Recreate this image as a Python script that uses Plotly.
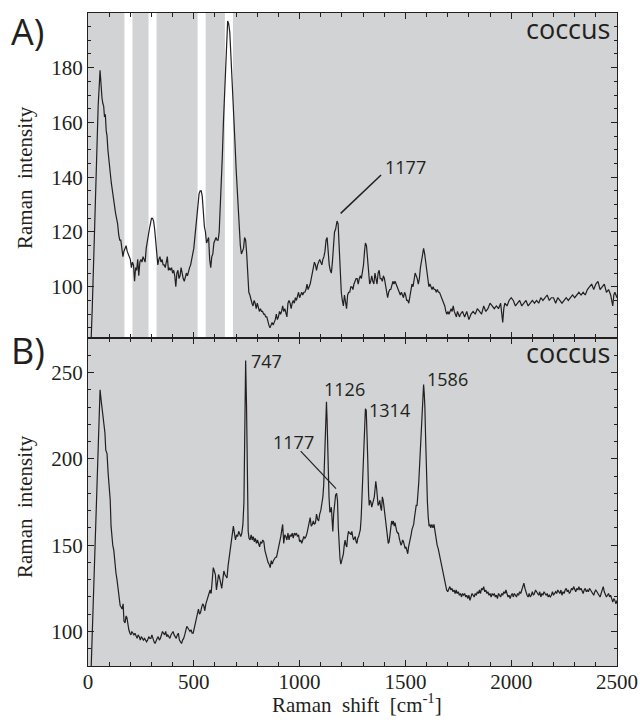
import plotly.graph_objects as go

# ---------------- data ----------------
# Panel A (top)
xa = [10, 15, 20, 30, 40, 48, 57, 62, 66, 70, 74, 78, 82, 86, 90, 94, 98, 102, 106, 110,
      115, 120, 125, 130, 135, 140, 145, 150, 155, 160, 165, 170, 175, 180, 185, 190, 195, 200,
      205, 210, 215, 220, 225, 230, 235, 240, 245, 250, 255, 260, 265, 270, 275, 280, 285, 290,
      295, 300, 305, 310, 315, 320, 325, 330, 335, 340, 345, 350, 355, 360, 365, 370, 375, 380,
      385, 390, 395, 400, 405, 410, 415, 420, 425, 430, 435, 440, 445, 450, 455, 460, 465, 470,
      475, 480, 485, 490, 495, 500, 505, 510, 515, 520, 525, 530, 535, 540, 545, 550, 555, 560,
      565, 570, 575, 580, 585, 590, 595, 600, 605, 610, 615, 620, 625, 630, 635, 640, 645, 650,
      655, 660, 665, 670, 675, 680, 685, 690, 695, 700, 705, 710, 715, 720, 725, 730, 735, 740,
      745, 750, 755, 760, 765, 770, 775, 780, 785, 790, 795, 800, 805, 810, 815, 820, 825, 830,
      835, 840, 845, 850, 855, 860, 865, 870, 875, 880, 885, 890, 895, 900, 905, 910, 915, 920,
      925, 930, 935, 940, 945, 950, 955, 960, 965, 970, 975, 980, 985, 990, 995, 1000, 1005,
      1010, 1015, 1020, 1025, 1030, 1035, 1040, 1045, 1050, 1055, 1060, 1065, 1070, 1075, 1080,
      1085, 1090, 1095, 1100, 1105, 1110, 1115, 1120, 1125, 1130, 1135, 1140, 1145, 1150, 1155,
      1160, 1165, 1170, 1177, 1182, 1187, 1192, 1197, 1202, 1207, 1212, 1217, 1222, 1227, 1232,
      1237, 1242, 1247, 1252, 1257, 1262, 1267, 1272, 1277, 1282, 1287, 1292, 1297, 1302, 1307,
      1311, 1316, 1321, 1326, 1331, 1336, 1341, 1346, 1351, 1356, 1361, 1366, 1371, 1376, 1381,
      1386, 1391, 1396, 1401, 1406, 1411, 1416, 1421, 1426, 1431, 1436, 1441, 1446, 1451, 1456,
      1461, 1466, 1471, 1476, 1481, 1486, 1491, 1496, 1501, 1506, 1511, 1516, 1521, 1526, 1531,
      1536, 1541, 1546, 1551, 1556, 1561, 1566, 1571, 1576, 1581, 1586, 1591, 1596, 1601, 1606,
      1611, 1616, 1621, 1626, 1631, 1636, 1641, 1646, 1651, 1656, 1661, 1666, 1671, 1676, 1681,
      1686, 1691, 1696, 1701, 1706, 1711, 1716, 1721, 1726, 1731, 1736, 1741, 1746, 1751, 1756,
      1760, 1770, 1780, 1790, 1800, 1810, 1820, 1830, 1840, 1850, 1860, 1870, 1880, 1890, 1900,
      1910, 1920, 1930, 1940, 1950, 1960, 1965, 1970, 1980, 1990, 2000, 2010, 2020, 2030, 2040,
      2050, 2060, 2070, 2080, 2090, 2100, 2110, 2120, 2130, 2140, 2150, 2160, 2170, 2180, 2190,
      2200, 2210, 2220, 2230, 2240, 2250, 2260, 2270, 2280, 2290, 2300, 2310, 2320, 2330, 2340,
      2350, 2360, 2370, 2380, 2390, 2400, 2410, 2420, 2430, 2440, 2450, 2460, 2470, 2480, 2485,
      2490, 2500]
ya = [70, 80, 92, 118, 148, 166, 179, 172, 169, 167, 166, 162, 163, 157, 155, 150, 146, 143, 141, 138,
      135, 133, 128, 127, 125, 123, 119, 117, 117, 114, 111, 113, 114, 115, 113, 112, 111, 110,
      107, 109, 108, 102, 107, 106, 110, 104, 109, 110, 109, 111, 110, 109, 114, 117, 118, 121,
      123, 125, 125, 124, 121, 117, 113, 108, 110, 111, 109, 110, 108, 108, 107, 109, 111, 106,
      107, 106, 107, 105, 106, 104, 100, 105, 106, 103, 104, 107, 104, 103, 102, 104, 105, 104,
      106, 107, 108, 111, 112, 114, 118, 122, 126, 132, 134, 135, 135, 133, 127, 122, 120, 116,
      117, 118, 110, 107, 111, 112, 116, 117, 118, 117, 117, 120, 128, 138, 148, 160, 170, 182,
      190, 197, 196, 193, 185, 175, 167, 158, 152, 143, 136, 129, 120, 115, 112, 113, 114, 118,
      117, 112, 104, 98, 97, 95, 94, 93, 95, 94, 92, 94, 92, 91, 92, 91, 91, 90,
      90, 89, 89, 87, 86, 85, 86, 87, 86, 87, 88, 90, 88, 89, 91, 90, 91, 93,
      91, 92, 90, 89, 94, 95, 94, 92, 94, 95, 94, 96, 95, 97, 98, 96, 97,
      98, 97, 98, 98, 99, 101, 99, 100, 101, 103, 105, 107, 109, 108, 106,
      108, 109, 110, 109, 108, 110, 111, 113, 117, 118, 112, 108, 106, 105, 109,
      117, 120, 121, 124, 123, 114, 104, 98, 95, 93, 97, 94, 92, 97, 98,
      98, 100, 100, 99, 101, 102, 103, 103, 101, 103, 104, 103, 105, 108, 113,
      116, 115, 109, 103, 101, 102, 104, 102, 101, 105, 103, 101, 105, 106, 103,
      103, 102, 104, 103, 100, 97, 96, 98, 99, 99, 101, 102, 101, 102, 101,
      100, 99, 98, 97, 98, 97, 96, 98, 97, 95, 95, 94, 97, 99, 101,
      100, 102, 105, 104, 103, 101, 103, 107, 110, 113, 114, 112, 109, 104, 101,
      100, 101, 100, 99, 100, 99, 99, 98, 99, 98, 98, 97, 96, 95, 94,
      93, 91, 90, 91, 90, 91, 92, 91, 93, 91, 90, 89, 91, 90, 89,
      90, 91, 89, 91, 88, 90, 91, 90, 92, 91, 90, 93, 91, 92, 94,
      93, 92, 93, 92, 94, 87, 92, 94, 93, 95, 96, 95, 93, 94, 95,
      93, 94, 95, 93, 94, 95, 94, 95, 94, 96, 95, 96, 97, 95, 96,
      96, 94, 96, 95, 94, 95, 96, 95, 96, 97, 96, 97, 98, 97, 98,
      97, 99, 100, 101, 99, 101, 102, 99, 100, 101, 98, 99, 97, 93, 97,
      98, 96]

# Panel B (bottom)
xb = [10, 15, 18, 25, 35, 45, 57, 62, 66, 72, 76, 80, 84, 90, 95, 100, 105, 109, 113, 117,
      122, 127, 132, 137, 142, 147, 152, 157, 161, 166, 170, 175, 180, 184, 188, 193, 198, 203,
      207, 212, 217, 222, 227, 232, 237, 242, 247, 252, 257, 262, 267, 272, 277, 282, 287, 292,
      297, 302, 307, 312, 317, 322, 327, 332, 337, 342, 347, 352, 357, 362, 367, 372, 377, 382,
      387, 392, 397, 402, 407, 412, 417, 422, 427, 432, 437, 442, 447, 452, 457, 462, 467, 472,
      477, 482, 487, 492, 497, 502, 507, 512, 517, 522, 527, 532, 537, 542, 547, 552, 557, 562,
      567, 572, 577, 582, 587, 592, 597, 602, 607, 612, 617, 622, 627, 632, 637, 642, 647, 652,
      657, 662, 667, 672, 677, 682, 687, 692, 697, 702, 707, 712, 717, 722, 727, 732, 737, 741,
      745, 749, 753, 757, 761, 766, 771, 776, 781, 786, 791, 796, 801, 806, 811, 816, 821, 826,
      831, 836, 841, 846, 851, 856, 861, 866, 871, 876, 881, 886, 891, 896, 901, 906, 911, 916,
      920, 925, 930, 935, 940, 945, 950, 955, 960, 965, 970, 975, 980, 985, 990, 995, 1000,
      1005, 1010, 1015, 1020, 1025, 1030, 1035, 1040, 1045, 1050, 1055, 1060, 1065, 1070, 1075,
      1080, 1085, 1090, 1095, 1100, 1105, 1110, 1114, 1118, 1121, 1124, 1127, 1130, 1133, 1136,
      1139, 1143, 1147, 1150, 1154, 1157, 1161, 1165, 1170, 1175, 1179, 1183, 1187, 1191, 1195,
      1199, 1203, 1207, 1211, 1215, 1219, 1223, 1227, 1231, 1235, 1239, 1243, 1247, 1251, 1255,
      1259, 1263, 1267, 1271, 1275, 1279, 1283, 1287, 1291, 1295, 1299, 1303, 1307, 1311, 1315,
      1319, 1322, 1326, 1329, 1333, 1337, 1341, 1345, 1349, 1353, 1357, 1360, 1364, 1367, 1371,
      1375, 1379, 1383, 1387, 1391, 1395, 1399, 1403, 1407, 1411, 1415, 1419, 1423, 1427, 1431,
      1435, 1439, 1443, 1447, 1451, 1455, 1459, 1463, 1467, 1471, 1475, 1479, 1483, 1487, 1491,
      1495, 1499, 1503, 1507, 1511, 1515, 1519, 1523, 1527, 1531, 1535, 1539, 1543, 1547, 1551,
      1555, 1559, 1563, 1567, 1571, 1575, 1579, 1583, 1586, 1589, 1592, 1596, 1600, 1604, 1608,
      1612, 1616, 1620, 1625, 1630, 1635, 1640, 1645, 1650, 1655, 1660, 1665, 1670, 1675, 1680,
      1685, 1690, 1695, 1700, 1705, 1710, 1715, 1720, 1725, 1730, 1735, 1740, 1745, 1750, 1755,
      1760, 1765, 1770, 1775, 1780, 1785, 1790, 1795, 1800, 1805, 1810, 1815, 1820, 1825, 1830,
      1835, 1840, 1845, 1850, 1855, 1860, 1865, 1870, 1875, 1880, 1885, 1890, 1895, 1900, 1905,
      1910, 1915, 1920, 1925, 1930, 1935, 1940, 1945, 1950, 1955, 1960, 1965, 1970, 1975, 1980,
      1985, 1990, 1995, 2000, 2005, 2010, 2015, 2020, 2025, 2030, 2035, 2040, 2045, 2050, 2055,
      2060, 2065, 2070, 2075, 2080, 2085, 2090, 2095, 2100, 2105, 2110, 2115, 2120, 2125, 2130,
      2135, 2140, 2145, 2150, 2155, 2160, 2165, 2170, 2175, 2180, 2185, 2190, 2195, 2200, 2205,
      2210, 2215, 2220, 2225, 2230, 2235, 2240, 2245, 2250, 2255, 2260, 2265, 2270, 2275, 2280,
      2285, 2290, 2295, 2300, 2305, 2310, 2315, 2320, 2325, 2330, 2335, 2340, 2345, 2350, 2355,
      2360, 2365, 2370, 2375, 2380, 2385, 2390, 2395, 2400, 2405, 2410, 2415, 2420, 2425, 2430,
      2435, 2440, 2445, 2450, 2455, 2460, 2465, 2470, 2475, 2480, 2485, 2490, 2495, 2500]
yb = [60, 80, 92, 120, 165, 205, 240, 234, 230, 224, 219, 215, 205, 203, 192, 184, 176, 161, 155, 150,
      147, 138, 134, 130, 125, 120, 115, 114, 113, 116, 106, 105, 109, 108, 103, 101, 99, 98,
      100, 99, 98, 99, 97, 96, 98, 97, 95, 97, 96, 95, 96, 95, 94, 95, 97, 96,
      96, 98, 95, 94, 93, 95, 96, 97, 95, 96, 99, 100, 99, 98, 100, 97, 98, 97,
      96, 98, 99, 100, 98, 97, 96, 98, 99, 95, 94, 93, 95, 96, 98, 100, 103, 102,
      101, 100, 101, 99, 99, 102, 105, 108, 111, 113, 110, 111, 114, 116, 115, 112, 116, 118,
      119, 121, 124, 122, 128, 137, 135, 133, 124, 128, 133, 131, 127, 125, 130, 135, 133, 132,
      131, 138, 143, 147, 152, 159, 161, 157, 153, 156, 155, 158, 156, 155, 157, 162, 175, 215,
      257, 232, 191, 158, 154, 153, 156, 153, 155, 152, 154, 151, 153, 150, 149, 152, 151, 153,
      152, 147, 144, 141, 140, 139, 137, 141, 139, 141, 142, 143, 143, 146, 147, 150, 155, 159,
      162, 151, 156, 155, 153, 157, 153, 156, 155, 157, 154, 157, 156, 157, 155, 156, 152,
      153, 151, 153, 155, 154, 155, 157, 160, 163, 166, 161, 162, 164, 162, 163,
      168, 165, 164, 168, 170, 174, 178, 185, 200, 218, 230, 233, 222, 205, 188,
      178, 169, 170, 172, 164, 158, 168, 174, 179, 180, 176, 160, 149, 142, 139,
      141, 143, 145, 150, 153, 150, 149, 155, 158, 157, 157, 156, 158, 155, 153,
      154, 155, 152, 151, 154, 155, 157, 159, 166, 178, 195, 212, 222, 229, 228,
      215, 200, 180, 173, 176, 175, 172, 174, 175, 178, 183, 187, 183, 180, 173,
      174, 176, 172, 170, 178, 176, 172, 168, 163, 158, 155, 151, 152, 155, 160,
      164, 162, 164, 161, 163, 160, 158, 157, 157, 154, 152, 150, 151, 153, 152,
      150, 148, 149, 146, 145, 149, 151, 153, 156, 159, 161, 162, 166, 171, 173,
      173, 178, 186, 196, 205, 218, 230, 238, 243, 238, 230, 210, 188, 175, 166,
      161, 162, 160, 162, 160, 162, 158, 153, 150, 148, 145, 141, 138, 136, 132,
      128, 126, 124, 123, 125, 126, 124, 125, 123, 124, 122, 124, 122, 123, 121,
      122, 120, 122, 121, 122, 120, 121, 119, 121, 118, 120, 122, 121, 120, 122,
      121, 123, 122, 124, 122, 125, 124, 126, 123, 124, 122, 123, 121, 122, 120,
      122, 121, 122, 120, 121, 119, 122, 121, 120, 122, 121, 123, 122, 124, 122,
      120, 121, 119, 121, 122, 120, 122, 121, 120, 122, 121, 123, 122, 124, 126,
      128, 125, 122, 121, 120, 122, 120, 121, 123, 121, 122, 124, 123, 122, 121,
      123, 120, 122, 121, 123, 122, 121, 122, 120, 121, 120, 121, 123, 121, 122,
      123, 122, 124, 123, 122, 124, 121, 123, 122, 124, 125, 123, 124, 122, 123,
      125, 124, 126, 124, 123, 125, 124, 126, 124, 125, 123, 122, 124, 125, 123,
      124, 123, 125, 124, 123, 122, 121, 123, 124, 123, 122, 121, 120, 122, 124,
      126, 123, 121, 120, 121, 122, 120, 121, 119, 117, 119, 118, 116, 118]

# annotations (labels, anchor positions in data units)
labels_a = [("1177", 1394, 143.7, "left")]
leader_a = [(1194, 126.8, 1385, 140.8)]
labels_b = [("747", 760, 256.7, "left"), ("1126", 1212, 240.7, "center"),
            ("1314", 1317, 228.1, "left"), ("1586", 1593, 246.1, "left"),
            ("1177", 969, 209.8, "center")]
leader_b = [(1005, 204.5, 1172, 182.7)]
bands_a = [(172, 210), (286, 324), (518, 556), (647, 685)]

# ---------------- figure ----------------
INK = "#231f20"
BG = "#d1d3d4"
SERIF = "Liberation Serif"
SANS = "Open Sans"

# plot-area geometry in pixels (used only to place paper-referenced texts)
W, H = 640, 720
ML, MR, MT, MB = 88, 23, 13, 54
PW, PH = W - ML - MR, H - MT - MB


def px_x(p):
    return (p - ML) / PW


def px_y(p):
    return (H - MB - p) / PH


fig = go.Figure()
fig.add_trace(go.Scatter(x=xa, y=ya, xaxis="x2", yaxis="y2", mode="lines",
                         line=dict(color=INK, width=1.2), showlegend=False, hoverinfo="skip"))
fig.add_trace(go.Scatter(x=xb, y=yb, xaxis="x", yaxis="y", mode="lines",
                         line=dict(color=INK, width=1.2), showlegend=False, hoverinfo="skip"))

split = 328 / 653

common_x = dict(range=[0, 2500], showline=True, linecolor=INK, linewidth=1.3, mirror="allticks",
                ticks="inside", ticklen=6, tickwidth=1, tickcolor=INK, dtick=500, tick0=0,
                minor=dict(dtick=100, tick0=0, ticks="inside", ticklen=4, tickcolor=INK, tickwidth=1),
                showgrid=False, zeroline=False, automargin=False)
common_y = dict(showline=True, linecolor=INK, linewidth=1.3, mirror="allticks",
                ticks="inside", ticklen=6, tickwidth=1, tickcolor=INK,
                showgrid=False, zeroline=False, automargin=False,
                tickfont=dict(family=SERIF, size=21, color=INK))

shapes = []
for x0, x1 in bands_a:
    shapes.append(dict(type="rect", xref="x2", yref="y2 domain", x0=x0, x1=x1, y0=0, y1=1,
                       fillcolor="white", line=dict(width=0), layer="below"))
for (x0, y0, x1, y1) in leader_a:
    shapes.append(dict(type="line", xref="x2", yref="y2", x0=x0, y0=y0, x1=x1, y1=y1,
                       line=dict(color=INK, width=1.5)))
for (x0, y0, x1, y1) in leader_b:
    shapes.append(dict(type="line", xref="x", yref="y", x0=x0, y0=y0, x1=x1, y1=y1,
                       line=dict(color=INK, width=1.2)))

annotations = []
for t, x, y, anc in labels_a:
    annotations.append(dict(text=t, x=x, y=y, xref="x2", yref="y2", xanchor=anc, yanchor="middle",
                            showarrow=False, font=dict(family=SANS, size=18, color=INK)))
for t, x, y, anc in labels_b:
    annotations.append(dict(text=t, x=x, y=y, xref="x", yref="y", xanchor=anc, yanchor="middle",
                            showarrow=False, font=dict(family=SANS, size=18, color=INK)))

ytitle = "Raman\u00a0\u00a0intensity"
annotations += [
    dict(text="A)", x=px_x(9), y=px_y(31), xref="paper", yref="paper", xanchor="left",
         yanchor="middle", showarrow=False, font=dict(family=SANS, size=36, color=INK)),
    dict(text="B)", x=px_x(9), y=px_y(351), xref="paper", yref="paper", xanchor="left",
         yanchor="middle", showarrow=False, font=dict(family=SANS, size=36, color=INK)),
    dict(text="coccus", x=px_x(612), y=px_y(28), xref="paper", yref="paper", xanchor="right",
         yanchor="middle", showarrow=False, font=dict(family=SANS, size=27, color=INK)),
    dict(text="coccus", x=px_x(612), y=px_y(352), xref="paper", yref="paper", xanchor="right",
         yanchor="middle", showarrow=False, font=dict(family=SANS, size=27, color=INK)),
    dict(text=ytitle, x=px_x(25), y=px_y(178), xref="paper", yref="paper", textangle=-90,
         xanchor="center", yanchor="middle", showarrow=False,
         font=dict(family=SERIF, size=21, color=INK)),
    dict(text=ytitle, x=px_x(25), y=px_y(507), xref="paper", yref="paper", textangle=-90,
         xanchor="center", yanchor="middle", showarrow=False,
         font=dict(family=SERIF, size=21, color=INK)),
    dict(text="Raman\u00a0\u00a0shift\u00a0\u00a0[cm<sup>-1</sup>]", x=px_x(357), y=px_y(719),
         xref="paper", yref="paper", xanchor="center", yanchor="bottom", showarrow=False,
         font=dict(family=SERIF, size=21, color=INK)),
]

fig.update_layout(
    width=W, height=H,
    margin=dict(l=ML, r=MR, t=MT, b=MB),
    paper_bgcolor="white", plot_bgcolor=BG,
    xaxis=dict(**common_x, anchor="y", domain=[0, 1],
               tickfont=dict(family=SERIF, size=21, color=INK), ticklabelstandoff=-3),
    xaxis2=dict(**common_x, anchor="y2", matches="x", showticklabels=False),
    yaxis=dict(**common_y, domain=[0, split], range=[80, 270], dtick=50, tick0=0,
               minor=dict(dtick=10, tick0=0, ticks="inside", ticklen=3, tickcolor=INK, tickwidth=1)),
    yaxis2=dict(**common_y, domain=[split, 1], range=[81.3, 199.95], dtick=20, tick0=0,
                minor=dict(dtick=5, tick0=0, ticks="inside", ticklen=3, tickcolor=INK, tickwidth=1)),
    shapes=shapes,
    annotations=annotations,
)

fig.write_html("out.html")
